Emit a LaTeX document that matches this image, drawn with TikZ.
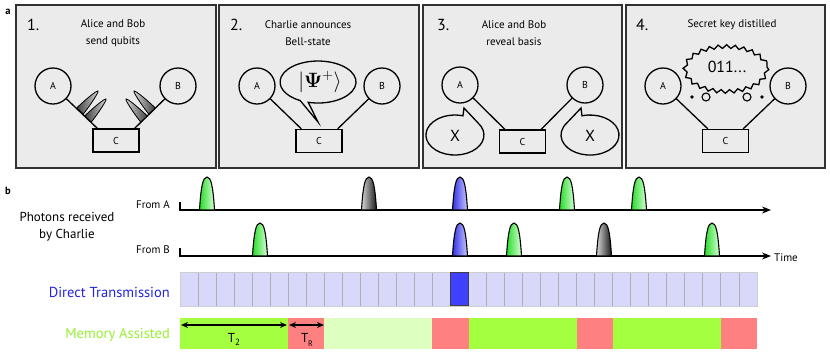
\documentclass[tikz,border=0pt]{standalone}
\usepackage[no-math]{fontspec}
\setmainfont{PT Sans}
\usetikzlibrary{arrows.meta,decorations.pathmorphing}
\definecolor{panelgray}{RGB}{235,235,235}
\definecolor{panelline}{RGB}{50,50,50}
\definecolor{lav}{RGB}{216,216,250}
\definecolor{lavborder}{RGB}{205,205,210}
\definecolor{divgray}{RGB}{175,175,175}
\definecolor{dblue}{RGB}{64,64,255}
\definecolor{mgreen}{RGB}{163,255,64}
\definecolor{mred}{RGB}{255,128,128}
\definecolor{mlight}{RGB}{221,255,192}
\definecolor{txtblue}{RGB}{35,35,225}
\definecolor{txtgreen}{RGB}{150,240,50}
\definecolor{pgreenL}{RGB}{40,220,40}
\definecolor{pgreenR}{RGB}{215,255,215}
\definecolor{pblueL}{RGB}{50,50,230}
\definecolor{pblueR}{RGB}{200,200,255}
\definecolor{pgrayL}{RGB}{215,215,215}
\definecolor{pgrayR}{RGB}{25,25,25}
\newcommand{\qpulse}[4]{%
  \draw[pulseline, left color=#3, right color=#4] (#1-7.5,#2) .. controls (#1-6,#2-24) and (#1-4,#2-33) .. (#1,#2-33) .. controls (#1+4,#2-33) and (#1+6,#2-24) .. (#1+7.5,#2) -- cycle;}
\newcommand{\qspike}[3]{%
  \begin{scope}[shift={(#1)}, rotate=#2]
    \draw[line width=0.8pt, #3] (-4.5,0) .. controls (-3.5,-14) and (-1.2,-27) .. (0,-27) .. controls (1.2,-27) and (3.5,-14) .. (4.5,0) -- cycle;
  \end{scope}}
\begin{document}
\begin{tikzpicture}[x=1pt,y=-1pt,
  panel/.style={draw=panelline, line width=1.7pt, fill=panelgray, minimum height=163pt, inner sep=0pt},
  station/.style={circle, draw, line width=1.3pt, minimum size=36pt, inner sep=0pt, font=\fontsize{10}{12}\selectfont},
  charlie/.style={rectangle, draw, line width=1.3pt, minimum width=46pt, minimum height=23pt, inner sep=0pt, font=\fontsize{10}{12}\selectfont},
  link/.style={line width=1.3pt},
  num/.style={font=\fontsize{16}{18}\selectfont, anchor=west, inner sep=0pt},
  ttl/.style={font=\fontsize{11}{17}\selectfont, align=center, inner sep=0pt},
  pulseline/.style={line width=1.1pt},
  axisline/.style={line width=1.3pt},
  lbl/.style={font=\fontsize{11}{13}\selectfont, inner sep=0pt},
  big/.style={font=\fontsize{13}{17}\selectfont, inner sep=0pt, align=center},
  bigger/.style={font=\fontsize{14.5}{17}\selectfont, inner sep=0pt},
  divider/.style={draw=divgray, line width=0.9pt},
  dimarrow/.style={line width=1.3pt, {Stealth[length=7pt,width=6pt]}-{Stealth[length=7pt,width=6pt]}},
  letter/.style={font=\bfseries\fontsize{10.5}{12}\selectfont, inner sep=0pt}
]
\useasboundingbox (0,0) rectangle (830,357);
% ---------- part a ----------
\node[letter] (la) at (8,12) {a};
\node[panel, minimum width=200pt] (p1) at (116,86.5) {};
\node[panel, minimum width=200pt] (p2) at (319,86.5) {};
\node[panel, minimum width=199pt] (p3) at (522.5,86.5) {};
\node[panel, minimum width=199pt] (p4) at (725.5,86.5) {};
\node[num] (n1) at (27,25) {1.};
\node[num] (n2) at (230,25) {2.};
\node[num] (n3) at (437,25) {3.};
\node[num] (n4) at (636,25) {4.};
\node[ttl] (t1) at (113,33.5) {Alice and Bob\\send qubits};
\node[ttl] (t2) at (308,33.5) {Charlie announces\\Bell-state};
\node[ttl] (t3) at (514,33.5) {Alice and Bob\\reveal basis};
\node[ttl] (t4) at (732,25) {Secret key distilled};
% panel 1
\node[station] (a1) at (53,86) {A};
\node[station] (b1) at (178,86) {B};
\node[charlie] (c1) at (116,140.5) {C};
\draw[link] (a1) -- ([xshift=5pt]c1.north west);
\draw[link] (b1) -- ([xshift=-5pt]c1.north east);
\qspike{80,111}{-42}{left color=black!75, right color=white!85!black}
\qspike{88,119}{-42}{left color=black!75, right color=white!85!black}
\qspike{152,111}{42}{right color=black!75, left color=white!85!black}
\qspike{144,119}{42}{right color=black!75, left color=white!85!black}
% panel 2
\node[station] (a2) at (257,86) {A};
\node[station] (b2) at (382,86) {B};
\node[charlie] (c2) at (319,141) {C};
\draw[link] (a2) -- ([xshift=6pt]c2.north west);
\draw[link] (b2) -- ([xshift=-5pt]c2.north east);
\draw[link] (308.2,102.3) arc[start angle=105, end angle=-242, x radius=38, y radius=21] -- (318,122) -- cycle;
\node[font=\fontsize{20}{22}\selectfont] (psi) at (320,82) {$|\mathbf{\Psi}^{+}\rangle$};
% panel 3
\node[station] (a3) at (460,85) {A};
\node[station] (b3) at (585,85) {B};
\node[charlie] (c3) at (522.5,141.5) {C};
\draw[link] (a3) -- ([xshift=6pt]c3.north west);
\draw[link] (b3) -- ([xshift=-5pt]c3.north east);
\draw[link] (478.1,123.0) arc[start angle=-37, end angle=286, x radius=29, y radius=20] -- (464,108) -- cycle;
\draw[link] (582.0,115.8) arc[start angle=-106, end angle=217, x radius=29, y radius=20] -- (581,108) -- cycle;
\node[font=\fontsize{16}{18}\selectfont] (x1) at (455,136) {X};
\node[font=\fontsize{16}{18}\selectfont] (x2) at (590,136) {X};
% panel 4
\node[station] (a4) at (663,86) {A};
\node[station] (b4) at (788,86) {B};
\node[charlie] (c4) at (725.5,141) {C};
\draw[link] (a4) -- ([xshift=6pt]c4.north west);
\draw[link] (b4) -- ([xshift=-6pt]c4.north east);
\draw[link, decorate, decoration={snake, segment length=8.5pt, amplitude=1.8pt}] (726,67) ellipse [x radius=41, y radius=22.5];
\node[font=\fontsize{16}{18}\selectfont] (key) at (727,67) {011...};
\fill (692,97) circle[radius=1.8];
\draw[line width=1.1pt] (706,97) circle[radius=4];
\draw[line width=1.1pt] (747,97) circle[radius=4];
\fill (762,97) circle[radius=1.8];
% ---------- part b ----------
\node[letter] (lb) at (8,191) {b};
\node[big] (ph) at (67,226.5) {Photons received\\by Charlie};
\node[lbl, anchor=east] (fa) at (170,205) {From A};
\node[lbl, anchor=east] (fb) at (170,250) {From B};
\node[lbl, anchor=west] (time) at (774,258) {Time};
\coordinate (ta) at (180,201.5);
\coordinate (oa) at (180,210);
\coordinate (ea) at (771,210);
\coordinate (tb) at (180,247.5);
\coordinate (ob) at (180,256);
\coordinate (eb) at (771,256);
\draw[axisline, -{Stealth[length=9pt,width=7pt]}] (ta) -- (oa) -- (ea);
\draw[axisline, -{Stealth[length=9pt,width=7pt]}] (tb) -- (ob) -- (eb);
\qpulse{207}{210}{pgreenL}{pgreenR}
\qpulse{369}{210}{pgrayL}{pgrayR}
\qpulse{460}{210}{pblueL}{pblueR}
\qpulse{567}{210}{pgreenL}{pgreenR}
\qpulse{639}{210}{pgreenL}{pgreenR}
\qpulse{260}{256}{pgreenL}{pgreenR}
\qpulse{460}{256}{pblueL}{pblueR}
\qpulse{514}{256}{pgreenL}{pgreenR}
\qpulse{604}{256}{pgrayL}{pgrayR}
\qpulse{712}{256}{pgreenL}{pgreenR}
% bars
\node[bigger, anchor=east, text=txtblue] (dt) at (170,292) {Direct Transmission};
\node[bigger, anchor=east, text=txtgreen] (ma) at (170,335) {Memory Assisted};
\pgfmathsetmacro{\cw}{577/32}
\fill[lav] (180,272) rectangle (757,306);
\foreach \i in {1,...,31} \draw[divider] (180+\i*\cw,272) -- (180+\i*\cw,306);
\draw[lavborder, line width=1pt] (180,272) rectangle (757,306);
\draw[fill=dblue, draw=black!75, line width=1.3pt] (180+15*\cw,272.5) rectangle (180+16*\cw,305.5);
\fill[mgreen] (180,318) rectangle (180+6*\cw,349);
\fill[mred] (180+6*\cw,318) rectangle (180+8*\cw,349);
\fill[mlight] (180+8*\cw,318) rectangle (180+14*\cw,349);
\fill[mred] (180+14*\cw,318) rectangle (180+16*\cw,349);
\fill[mgreen] (180+16*\cw,318) rectangle (180+22*\cw,349);
\fill[mred] (180+22*\cw,318) rectangle (180+24*\cw,349);
\fill[mgreen] (180+24*\cw,318) rectangle (180+30*\cw,349);
\fill[mred] (180+30*\cw,318) rectangle (757,349);
\coordinate (t2a) at (181,325);
\coordinate (t2b) at (287,325);
\coordinate (tra) at (289,325);
\coordinate (trb) at (324,325);
\draw[dimarrow] (t2a) -- (t2b);
\draw[dimarrow] (tra) -- (trb);
\node[big] (t2) at (234,339) {T\raisebox{-3pt}{\fontsize{9}{10}\selectfont 2}};
\node[big] (tr) at (307,340) {T\raisebox{-4pt}{\fontsize{8}{10}\selectfont R}};
\end{tikzpicture}
\end{document}
